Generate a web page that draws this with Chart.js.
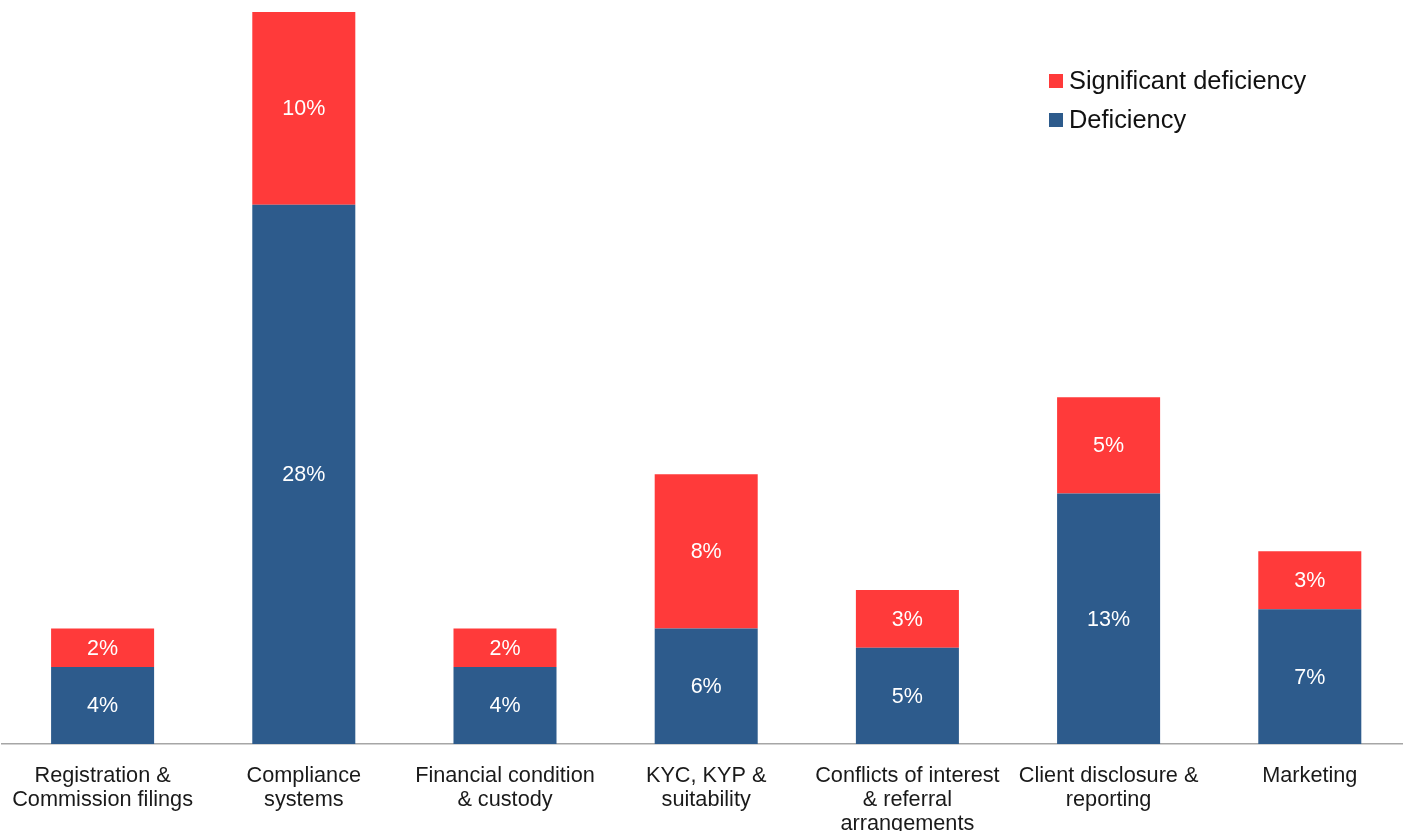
<!DOCTYPE html>
<html>
<head>
<meta charset="utf-8">
<script src="https://cdn.jsdelivr.net/npm/chart.js@4.4.0/dist/chart.umd.min.js"></script>
<style>
    html, body { margin: 0; padding: 0; background: #fff; overflow: hidden; }
    #wrap { position: relative; width: 1412px; height: 831px; }
</style>
</head>
<body>
<div id="wrap"><canvas id="chart"></canvas></div>
<script>
var categories = [
    ["Registration &", "Commission filings"],
    ["Compliance", "systems"],
    ["Financial condition", "& custody"],
    ["KYC, KYP &", "suitability"],
    ["Conflicts of interest", "& referral", "arrangements"],
    ["Client disclosure &", "reporting"],
    ["Marketing"]
];
var deficiency = [4, 28, 4, 6, 5, 13, 7];
var significant = [2, 10, 2, 8, 3, 5, 3];

var blue = '#2D5B8C';
var red = '#FF3A3A';
var fontFamily = '"Liberation Sans", Arial, sans-serif';

// white % labels in the middle of each segment
var segmentLabels = {
    id: 'segmentLabels',
    afterDatasetsDraw: function (chart) {
        let ctx = chart.ctx;
        ctx.save();
        ctx.fillStyle = '#ffffff';
        ctx.font = '21.5px ' + fontFamily;
        ctx.textAlign = 'center';
        ctx.textBaseline = 'middle';
        chart.data.datasets.forEach(function (ds, i) {
            chart.getDatasetMeta(i).data.forEach(function (bar, j) {
                ctx.fillText(ds.data[j] + '%', bar.x, (bar.y + bar.base) / 2 + 1);
            });
        });
        ctx.restore();
    }
};

// legend in the top right corner, significant first
var cornerLegend = {
    id: 'cornerLegend',
    afterDraw: function (chart) {
        let ctx = chart.ctx;
        let items = chart.data.datasets.slice().reverse();
        ctx.save();
        ctx.font = '25.4px ' + fontFamily;
        ctx.textBaseline = 'middle';
        ctx.textAlign = 'left';
        for (let k = 0; k < items.length; k++) {
            let cy = 81 + k * 39;
            ctx.fillStyle = items[k].backgroundColor;
            ctx.fillRect(1049, cy - 7, 14, 14);
            ctx.fillStyle = '#111111';
            ctx.fillText(items[k].label, 1069, cy + 1);
        }
        ctx.restore();
    }
};

var chart = new Chart(document.getElementById('chart').getContext('2d'), {
    type: 'bar',
    data: {
        labels: categories,
        datasets: [
            {
                label: 'Deficiency',
                data: deficiency,
                backgroundColor: blue,
                borderWidth: 0
            },
            {
                label: 'Significant deficiency',
                data: significant,
                backgroundColor: red,
                borderWidth: 0
            }
        ]
    },
    options: {
        responsive: true,
        maintainAspectRatio: false,
        animation: false,
        layout: {
            padding: { top: 12, left: 2, right: 1.6, bottom: 0 }
        },
        datasets: {
            bar: {
                categoryPercentage: 1,
                barPercentage: 0.512
            }
        },
        plugins: {
            legend: { display: false },
            tooltip: { enabled: false }
        },
        scales: {
            x: {
                stacked: true,
                grid: { display: false },
                border: { display: true, color: '#a6a6a6', width: 1.5 },
                ticks: {
                    color: '#1a1a1a',
                    padding: 12,
                    maxRotation: 0,
                    autoSkip: false,
                    font: { family: fontFamily, size: 21.7, lineHeight: '24px' }
                },
                afterFit: function (scale) {
                    scale.height = 87;
                }
            },
            y: {
                stacked: true,
                display: false,
                min: 0,
                max: 38
            }
        }
    },
    plugins: [segmentLabels, cornerLegend]
});
</script>
</body>
</html>
